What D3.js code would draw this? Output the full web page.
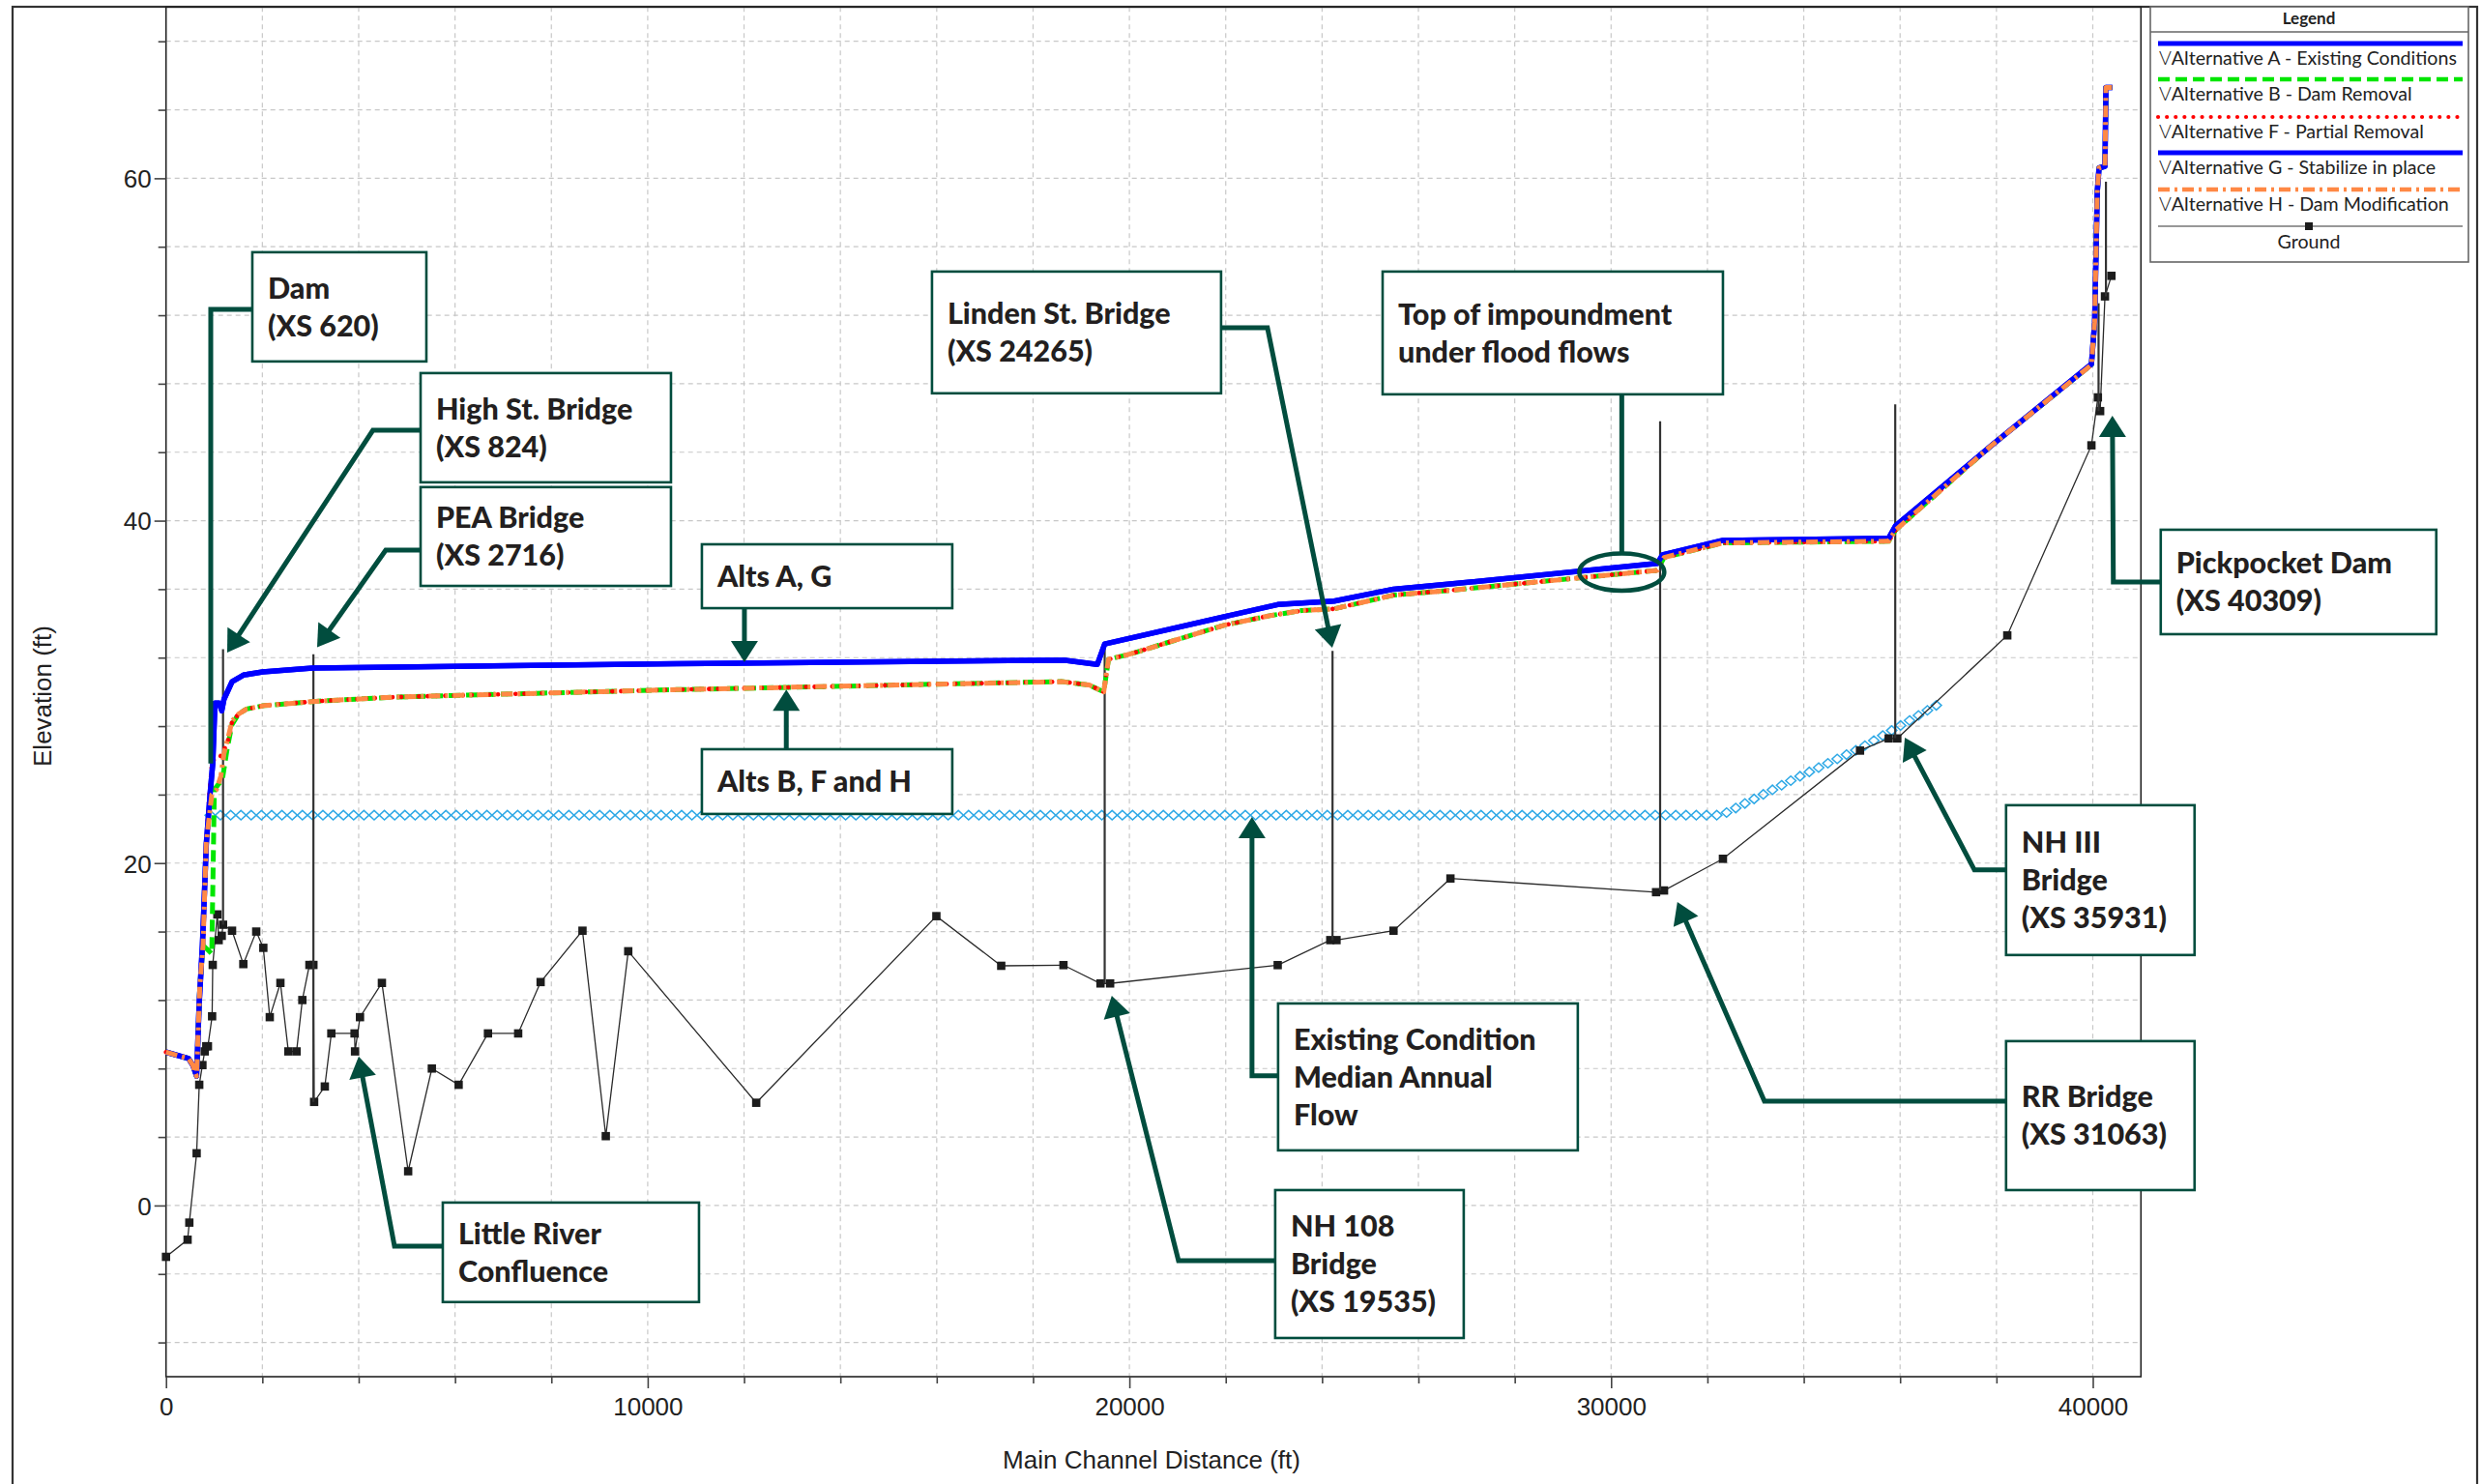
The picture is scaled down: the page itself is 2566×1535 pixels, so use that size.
<!DOCTYPE html>
<html><head><meta charset="utf-8">
<script src="https://cdn.jsdelivr.net/npm/d3@7"></script>
<style>html,body{margin:0;padding:0;background:#fff;overflow:hidden}svg{display:block}</style>
</head><body>
<svg id="chart" width="2566" height="1535"></svg>
<script>
// ---------------- DATA ----------------
const xMajorTicks = [0, 10000, 20000, 30000, 40000];
const yMajorTicks = [0, 20, 40, 60];
const xTitle = "Main Channel Distance (ft)";
const yTitle = "Elevation (ft)";

// [main channel distance ft, elevation ft]
const altA = [[0,8.96],[469,8.58],[555,8.2],[635,7.55],[689,11.8],[756,15.2],[836,21.1],[917,24.1],[970,25.8],[1017,29.34],[1104,29.34],[1157,28.9],[1204,29.57],[1371,30.6],[1605,30.98],[2006,31.17],[3043,31.39],[4783,31.45],[10600,31.64],[18631,31.86],[19333,31.6],[19487,32.8],[23079,35.1],[24250,35.3],[25483,36.0],[26660,36.3],[30960,37.5],[31068,38.0],[32322,38.85],[35763,38.98],[35906,39.7],[37900,44.4],[39972,49.14],[40039,51.6],[40093,59.2],[40106,59.7],[40130,60.6],[40253,60.7],[40273,65.3],[40407,65.3]];
const altB = [[0,8.96],[469,8.58],[555,8.2],[635,7.55],[702,12.8],[769,15.2],[950,14.7],[1004,24.3],[1171,24.9],[1271,26.7],[1371,28.1],[1505,28.7],[1672,29.0],[2040,29.2],[3110,29.45],[4783,29.7],[10600,30.13],[18598,30.6],[19167,30.4],[19467,30.0],[19567,31.9],[20002,32.2],[21106,33.15],[21976,33.9],[22912,34.45],[23580,34.75],[24250,34.85],[25483,35.65],[26660,35.93],[30960,37.1],[31100,37.85],[32322,38.7],[35763,38.8],[35906,39.45],[37900,44.4],[39972,49.1],[40039,51.6],[40093,59.2],[40106,59.7],[40130,60.6],[40253,60.7],[40273,65.3],[40407,65.3]];
const altF = [[0,8.96],[469,8.58],[555,8.2],[635,7.55],[702,12.8],[769,15.2],[836,21.2],[900,24.0],[960,26.0],[1104,26.1],[1204,26.6],[1304,27.3],[1371,28.25],[1505,28.7],[1672,29.0],[2040,29.2],[3110,29.45],[4783,29.7],[10600,30.13],[18598,30.6],[19167,30.4],[19467,30.0],[19567,31.9],[20002,32.2],[21106,33.15],[21976,33.9],[22912,34.45],[23580,34.75],[24250,34.85],[25483,35.65],[26660,35.93],[30960,37.1],[31100,37.85],[32322,38.7],[35763,38.8],[35906,39.45],[37900,44.4],[39972,49.1],[40039,51.6],[40093,59.2],[40106,59.7],[40130,60.6],[40253,60.7],[40273,65.3],[40407,65.3]];
const altG = [[0,8.96],[469,8.58],[555,8.2],[635,7.55],[689,11.8],[756,15.2],[836,21.1],[917,24.1],[970,25.8],[1017,29.34],[1104,29.34],[1157,28.9],[1204,29.57],[1371,30.6],[1605,30.98],[2006,31.17],[3043,31.39],[4783,31.45],[10600,31.64],[18631,31.86],[19333,31.6],[19487,32.8],[23079,35.1],[24250,35.3],[25483,36.0],[26660,36.3],[30960,37.5],[31068,38.0],[32322,38.85],[35763,38.98],[35906,39.7],[37900,44.4],[39972,49.14],[40039,51.6],[40093,59.2],[40106,59.7],[40130,60.6],[40253,60.7],[40273,65.3],[40407,65.3]];
const altH = [[0,8.96],[469,8.58],[555,8.2],[635,7.55],[702,12.8],[769,15.2],[836,21.2],[950,24.0],[1050,24.3],[1140,25.1],[1204,26.4],[1304,27.5],[1371,28.3],[1505,28.7],[1672,29.0],[2040,29.2],[3110,29.45],[4783,29.7],[10600,30.13],[18598,30.6],[19167,30.4],[19467,30.0],[19567,31.9],[20002,32.2],[21106,33.15],[21976,33.9],[22912,34.45],[23580,34.75],[24250,34.85],[25483,35.65],[26660,35.93],[30960,37.1],[31100,37.85],[32322,38.7],[35763,38.8],[35906,39.45],[37900,44.4],[39972,49.1],[40039,51.6],[40093,59.2],[40106,59.7],[40130,60.6],[40253,60.7],[40273,65.3],[40407,65.3]];
const ground = [[0,-3.0],[448,-2.0],[484,-1.0],[636,3.05],[690,7.05],[756,8.2],[803,9.0],[836,9.3],[870,9.3],[957,11.05],[970,14.05],[1066,17.0],[1093,15.5],[1157,15.75],[1184,16.4],[1371,16.05],[1605,14.1],[1873,16.0],[2020,15.05],[2154,11.0],[2375,13.0],[2540,9.0],[2710,9.0],[2830,12.0],[2977,14.05],[3060,14.05],[3075,6.05],[3297,6.95],[3432,10.05],[3914,10.05],[3924,9.0],[4027,11.0],[4482,13.0],[5027,2.0],[5519,8.0],[6075,7.05],[6684,10.05],[7311,10.05],[7777,13.05],[8646,16.05],[9130,4.05],[9596,14.85],[12253,6.0],[15993,16.9],[17339,14.0],[18631,14.04],[19400,12.97],[19600,12.97],[23079,14.04],[24170,15.5],[24300,15.5],[25483,16.05],[26665,19.1],[30934,18.3],[31099,18.4],[32322,20.25],[35168,26.57],[35763,27.28],[35942,27.28],[38225,33.3],[39972,44.4],[40106,47.2],[40153,46.4],[40253,53.1],[40387,54.3]];
const medianFlow = [[917,22.8],[32250,22.8],[32400,22.95],[33828,24.95],[35168,26.7],[36838,29.35]];
// [distance, low elevation, high elevation]
const bridgeLines = [[1184,16.4,32.5],[3060,6.05,32.2],[19487,12.97,32.85],[24217,15.5,32.4],[31018,18.4,45.8],[35899,27.3,46.8],[40120,46.4,52.7],[40273,53.1,59.8]];

const legendLabels = ["Alternative A - Existing Conditions","Alternative B - Dam Removal","Alternative F - Partial Removal","Alternative G - Stabilize in place","Alternative H - Dam Modification"];

// annotation callouts (positions in data units)
const annotations = [
 {lines:["Dam","(XS 620)"], box:[1792,55.68,5405,49.30], leader:[[1792,52.34],[929,52.34],[929,25.81]], arrow:false},
 {lines:["High St. Bridge","(XS 824)"], box:[5285,48.62,10483,42.24], leader:[[5285,45.28],[4295,45.28],[1270,32.3]], arrow:true},
 {lines:["PEA Bridge","(XS 2716)"], box:[5285,41.96,10483,36.19], leader:[[5285,38.28],[4562,38.28],[3137,32.6]], arrow:true},
 {lines:["Alts A, G"], box:[11125,38.62,16323,34.89], leader:[[12008,34.89],[12008,31.73]], arrow:true},
 {lines:["Alts B, F and H"], box:[11125,26.65,16323,22.87], leader:[[12877,26.65],[12877,30.13]], arrow:true},
 {lines:["Linden St. Bridge","(XS 24265)"], box:[15902,54.55,21903,47.44], leader:[[21903,51.27],[22866,51.27],[24211,32.58]], arrow:true},
 {lines:["Top of impoundment","under flood flows"], box:[25257,54.55,32322,47.38], leader:[[30222,47.38],[30222,38.12]], arrow:false},
 {lines:["Existing Condition","Median Annual","Flow"], box:[23087,11.80,29309,3.22], leader:[[23087,7.57],[22545,7.57],[22545,22.70]], arrow:true},
 {lines:["NH 108","Bridge","(XS 19535)"], box:[23027,0.90,26941,-7.74], leader:[[23027,-3.22],[21019,-3.22],[19634,12.25]], arrow:true},
 {lines:["Little River","Confluence"], box:[5746,0.17,11065,-5.64], leader:[[5746,-2.37],[4743,-2.37],[4000,8.7]], arrow:true},
 {lines:["RR Bridge","(XS 31063)"], box:[38200,9.6,42113,0.9], leader:[[38200,6.1],[33183,6.1],[31376,17.73]], arrow:true},
 {lines:["NH III","Bridge","(XS 35931)"], box:[38200,23.38,42113,14.63], leader:[[38200,19.6],[37543,19.6],[36098,27.33]], arrow:true},
 {lines:["Pickpocket Dam","(XS 40309)"], box:[41411,39.47,47131,33.37], leader:[[41411,36.42],[40427,36.42],[40407,46.13]], arrow:true}
];
const impoundEllipse = {cx:30222, cy:37.0, rx:883, ry:1.09};

// ---------------- CHART ----------------
const svg = d3.select("#chart");
const x = d3.scaleLinear().domain([0,41000]).range([171.7,2214.3]);
const y = d3.scaleLinear().domain([-10,70]).range([1424,7.3]);
const GREEN = "#014d3e";
const tickFont = "'Liberation Sans', Arial, sans-serif";
const annFont = "Lato, 'Open Sans', sans-serif";

// outer frame
svg.append("rect").attr("x",13).attr("y",7).attr("width",2549).attr("height",1545)
  .attr("fill","none").attr("stroke","#333").attr("stroke-width",2.2);

// grid
const xGrid = d3.range(2000, 41000, 2000);
const yGrid = d3.range(-8, 70, 4);
const grid = svg.append("g").attr("stroke","#c8c8c8").attr("stroke-width",1.2).attr("stroke-dasharray","5,4");
grid.selectAll(".gx").data(xGrid).join("line").attr("x1",d=>x(d)).attr("x2",d=>x(d)).attr("y1",y(70)).attr("y2",y(-10));
grid.selectAll(".gy").data(yGrid).join("line").attr("y1",d=>y(d)).attr("y2",d=>y(d)).attr("x1",x(0)).attr("x2",x(41000));

// plot frame
svg.append("rect").attr("x",x(0)).attr("y",y(70)).attr("width",x(41000)-x(0)).attr("height",y(-10)-y(70))
  .attr("fill","none").attr("stroke","#222").attr("stroke-width",1.6);

// axes
const xAxisG = svg.append("g").attr("transform",`translate(0,${y(-10)})`)
  .call(d3.axisBottom(x).tickValues(xMajorTicks).tickSize(12).tickSizeOuter(0).tickFormat(d3.format("d")));
const xMinorG = svg.append("g").attr("transform",`translate(0,${y(-10)})`)
  .call(d3.axisBottom(x).tickValues(xGrid.filter(d=>!xMajorTicks.includes(d))).tickSize(7).tickSizeOuter(0).tickFormat(""));
const yAxisG = svg.append("g").attr("transform",`translate(${x(0)},0)`)
  .call(d3.axisLeft(y).tickValues(yMajorTicks).tickSize(12).tickSizeOuter(0));
const yMinorG = svg.append("g").attr("transform",`translate(${x(0)},0)`)
  .call(d3.axisLeft(y).tickValues(yGrid.filter(d=>!yMajorTicks.includes(d))).tickSize(8).tickSizeOuter(0).tickFormat(""));
[xAxisG,xMinorG,yAxisG,yMinorG].forEach(g=>{
  g.select(".domain").remove();
  g.selectAll(".tick line").attr("stroke","#444").attr("stroke-width",1.6);
});
xAxisG.selectAll(".tick text").attr("y",40).attr("dy",0).attr("font-size",26).attr("font-family",tickFont).attr("fill","#222");
yAxisG.selectAll(".tick text").attr("x",-15).attr("dy","0.36em").attr("font-size",26).attr("font-family",tickFont).attr("fill","#222");

svg.append("text").attr("x",1191).attr("y",1519).attr("text-anchor","middle").attr("font-size",26)
  .attr("font-family",tickFont).attr("fill","#222").text(xTitle);
svg.append("text").attr("transform","translate(53,720) rotate(-90)").attr("text-anchor","middle").attr("font-size",26)
  .attr("font-family",tickFont).attr("fill","#222").text(yTitle);

const line = d3.line().x(d=>x(d[0])).y(d=>y(d[1]));
const plot = svg.append("g");

// median annual flow (diamonds along path)
const mPath = plot.append("path").attr("d",line(medianFlow)).attr("fill","none").attr("stroke","none");
const mLen = mPath.node().getTotalLength();
const diamonds = [];
for (let s=0; s<=mLen; s+=10.6) diamonds.push(mPath.node().getPointAtLength(s));
plot.append("g").selectAll("path").data(diamonds).join("path")
  .attr("d","M0,-4.8L5.3,0L0,4.8L-5.3,0Z").attr("transform",p=>`translate(${p.x},${p.y})`)
  .attr("fill","none").attr("stroke","#2fa9e6").attr("stroke-width",1.5);

// ground
plot.append("path").attr("d",line(ground)).attr("fill","none").attr("stroke","#2a2a2a").attr("stroke-width",1.3);
plot.append("g").selectAll("rect").data(ground).join("rect")
  .attr("x",d=>x(d[0])-4.3).attr("y",d=>y(d[1])-4.3).attr("width",8.6).attr("height",8.6).attr("fill","#1c1c1c");

// bridge / structure lines
plot.append("g").selectAll("line").data(bridgeLines).join("line")
  .attr("x1",d=>x(d[0])).attr("x2",d=>x(d[0])).attr("y1",d=>y(d[1])).attr("y2",d=>y(d[2]))
  .attr("stroke","#333").attr("stroke-width",2.2);

// water surface profiles
const styles = [
  {data:altA, color:"#0000ff", w:5.5, dash:null, cap:"butt"},
  {data:altB, color:"#00e600", w:5, dash:"12,6", cap:"butt"},
  {data:altF, color:"#ff0000", w:4.6, dash:"0.1,9", cap:"round"},
  {data:altG, color:"#0000ff", w:5.5, dash:null, cap:"butt"},
  {data:altH, color:"#ff8844", w:5, dash:"12,5,3,5", cap:"butt"}
];
styles.forEach(s=>{
  plot.append("path").attr("d",line(s.data)).attr("fill","none").attr("stroke",s.color)
    .attr("stroke-width",s.w).attr("stroke-dasharray",s.dash).attr("stroke-linecap",s.cap).attr("stroke-linejoin","round");
});

// annotations
const ann = svg.append("g");
annotations.forEach(a=>{
  const pts = a.leader.map(p=>[x(p[0]),y(p[1])]);
  if (a.arrow) {
    const t = pts[pts.length-1], p = pts[pts.length-2];
    const dx=t[0]-p[0], dy=t[1]-p[1], L=Math.hypot(dx,dy), ux=dx/L, uy=dy/L;
    const AL=22, AW=14;
    const bx=t[0]-ux*AL, by=t[1]-uy*AL;
    const shaft = pts.slice(0,-1).concat([[t[0]-ux*AL*0.7, t[1]-uy*AL*0.7]]);
    ann.append("path").attr("d",d3.line()(shaft)).attr("fill","none").attr("stroke",GREEN).attr("stroke-width",5).attr("stroke-linejoin","miter");
    ann.append("path").attr("d",`M${t[0]},${t[1]}L${bx-uy*AW},${by+ux*AW}L${bx+uy*AW},${by-ux*AW}Z`).attr("fill",GREEN);
  } else {
    ann.append("path").attr("d",d3.line()(pts)).attr("fill","none").attr("stroke",GREEN).attr("stroke-width",5);
  }
  const bx0=x(a.box[0]), by0=y(a.box[1]), bx1=x(a.box[2]), by1=y(a.box[3]);
  ann.append("rect").attr("x",bx0).attr("y",by0).attr("width",bx1-bx0).attr("height",by1-by0)
    .attr("fill","#fff").attr("stroke",GREEN).attr("stroke-width",2.6);
  const cy=(by0+by1)/2, lh=39, n=a.lines.length;
  a.lines.forEach((t,i)=>{
    ann.append("text").attr("x",bx0+16).attr("y",cy+(i-(n-1)/2)*lh+11)
      .attr("font-family",annFont).attr("font-weight",900).attr("font-size",30.5).attr("fill","#231f20").text(t);
  });
});
// impoundment ellipse
ann.append("ellipse").attr("cx",x(impoundEllipse.cx)).attr("cy",y(impoundEllipse.cy))
  .attr("rx",x(impoundEllipse.cx+impoundEllipse.rx)-x(impoundEllipse.cx))
  .attr("ry",y(impoundEllipse.cy-impoundEllipse.ry)-y(impoundEllipse.cy))
  .attr("fill","none").attr("stroke",GREEN).attr("stroke-width",4.5);

// legend
const lg = svg.append("g");
lg.append("rect").attr("x",2224).attr("y",7).attr("width",329).attr("height",264).attr("fill","#fff").attr("stroke","#666").attr("stroke-width",1.6);
lg.append("line").attr("x1",2224).attr("x2",2553).attr("y1",33).attr("y2",33).attr("stroke","#666").attr("stroke-width",1.4);
lg.append("text").attr("x",2388).attr("y",25).attr("text-anchor","middle").attr("font-family",annFont).attr("font-weight",700).attr("font-size",17).attr("fill","#222").text("Legend");
const lineYs=[45,82,121,158,196];
styles.forEach((s,i)=>{
  lg.append("line").attr("x1",2232).attr("x2",2547).attr("y1",lineYs[i]).attr("y2",lineYs[i])
    .attr("stroke",s.color).attr("stroke-width",s.w-0.5).attr("stroke-dasharray",s.dash).attr("stroke-linecap",s.cap);
  const t = lg.append("text").attr("x",2233).attr("y",lineYs[i]+22).attr("font-family",annFont).attr("font-size",19.6).attr("fill","#222");
  t.append("tspan").attr("font-weight",300).text("V");
  t.append("tspan").text(legendLabels[i]);
});
lg.append("line").attr("x1",2232).attr("x2",2547).attr("y1",234).attr("y2",234).attr("stroke","#333").attr("stroke-width",1.2);
lg.append("rect").attr("x",2384).attr("y",230).attr("width",8).attr("height",8).attr("fill","#1c1c1c");
lg.append("text").attr("x",2388).attr("y",257).attr("text-anchor","middle").attr("font-family",annFont).attr("font-size",19.6).attr("fill","#222").text("Ground");
</script>
</body></html>
